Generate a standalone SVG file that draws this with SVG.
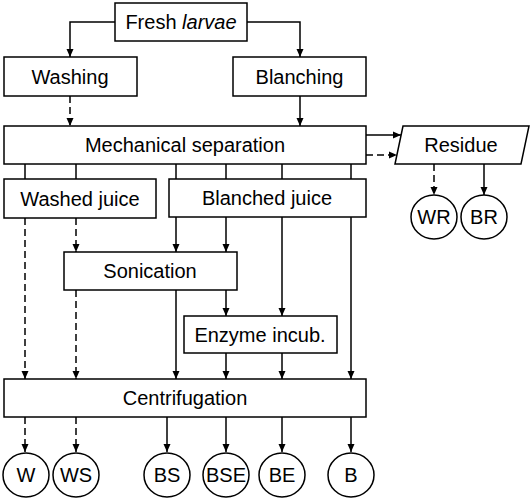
<svg xmlns="http://www.w3.org/2000/svg" width="532" height="499" viewBox="0 0 532 499">
<style>
.box{fill:#fff;stroke:#000;stroke-width:1.5}
.t{font-family:"Liberation Sans",Arial,sans-serif;font-size:20px;fill:#000;text-anchor:middle}
.c{fill:none;stroke:#000;stroke-width:1.5}
.a{marker-end:url(#ah)}
.d{stroke-dasharray:7,4}
</style>
<defs>
<marker id="ah" markerUnits="userSpaceOnUse" viewBox="0 0 8 8" refX="8" refY="4" markerWidth="8" markerHeight="8" orient="auto">
<path d="M0,0.5 L8,4 L0,7.5 z" fill="#000"/>
</marker>
</defs>
<rect width="532" height="499" fill="#fff"/>
<g id="connectors">
<polyline class="c a" points="115,22 70,22 70,57"/>
<polyline class="c a" points="247,22 300,22 300,57"/>
<line class="c a d" x1="70" y1="96" x2="70" y2="126"/>
<line class="c a" x1="300" y1="96" x2="300" y2="126"/>
<line class="c a" x1="366" y1="135" x2="401" y2="135"/>
<line class="c a d" x1="366" y1="155" x2="397" y2="155"/>
<line class="c a d" x1="434" y1="164" x2="434" y2="195"/>
<line class="c a" x1="484" y1="164" x2="484" y2="195"/>
<line class="c" x1="25" y1="164" x2="25" y2="179"/>
<line class="c" x1="76" y1="164" x2="76" y2="179"/>
<line class="c" x1="176" y1="164" x2="176" y2="179"/>
<line class="c" x1="226" y1="164" x2="226" y2="179"/>
<line class="c" x1="282" y1="164" x2="282" y2="179"/>
<line class="c" x1="351" y1="164" x2="351" y2="179"/>
<line class="c a d" x1="25" y1="218" x2="25" y2="379"/>
<line class="c a d" x1="76" y1="218" x2="76" y2="252"/>
<line class="c a" x1="176" y1="217" x2="176" y2="252"/>
<line class="c a" x1="226" y1="217" x2="226" y2="252"/>
<line class="c a" x1="282" y1="217" x2="282" y2="316"/>
<line class="c a" x1="351" y1="217" x2="351" y2="379"/>
<line class="c a d" x1="76" y1="290" x2="76" y2="379"/>
<line class="c a" x1="176" y1="290" x2="176" y2="379"/>
<line class="c a" x1="226" y1="290" x2="226" y2="316"/>
<line class="c a" x1="226" y1="353" x2="226" y2="379"/>
<line class="c a" x1="282" y1="353" x2="282" y2="379"/>
<line class="c a d" x1="25" y1="417" x2="25" y2="452"/>
<line class="c a d" x1="76" y1="417" x2="76" y2="452"/>
<line class="c a" x1="167" y1="417" x2="167" y2="452"/>
<line class="c a" x1="226" y1="417" x2="226" y2="452"/>
<line class="c a" x1="282" y1="417" x2="282" y2="452"/>
<line class="c a" x1="351" y1="417" x2="351" y2="452"/>
</g>
<g id="fresh"><rect class="box" x="115" y="3" width="132" height="38"/><text class="t" x="181" y="29">Fresh <tspan font-style="italic">larvae</tspan></text></g>
<g id="washing"><rect class="box" x="4" y="57" width="133" height="39"/><text class="t" x="70" y="83.5">Washing</text></g>
<g id="blanching"><rect class="box" x="233" y="57" width="133" height="39"/><text class="t" x="299.5" y="83.5">Blanching</text></g>
<g id="mech"><rect class="box" x="4" y="126" width="362" height="38"/><text class="t" x="185" y="152">Mechanical separation</text></g>
<g id="residue"><polygon class="box" points="403,126 529,126 521,164 395,164"/><text class="t" x="461" y="152">Residue</text></g>
<g id="wr"><ellipse class="box" cx="434" cy="217" rx="23" ry="22"/><text class="t" x="434" y="224">WR</text></g>
<g id="br"><ellipse class="box" cx="484" cy="217" rx="23" ry="22"/><text class="t" x="484" y="224">BR</text></g>
<g id="washedjuice"><rect class="box" x="4" y="179" width="152" height="39"/><text class="t" x="80" y="205.5">Washed juice</text></g>
<g id="blanchedjuice"><rect class="box" x="169" y="179" width="197" height="38"/><text class="t" x="267" y="205">Blanched juice</text></g>
<g id="sonication"><rect class="box" x="64" y="252" width="173" height="38"/><text class="t" x="150" y="278">Sonication</text></g>
<g id="enzyme"><rect class="box" x="184" y="316" width="153" height="37"/><text class="t" x="260" y="341.5">Enzyme incub.</text></g>
<g id="centrifugation"><rect class="box" x="4" y="379" width="362" height="38"/><text class="t" x="185" y="405">Centrifugation</text></g>
<g id="w"><ellipse class="box" cx="26" cy="475" rx="23" ry="22"/><text class="t" x="26" y="482">W</text></g>
<g id="ws"><ellipse class="box" cx="76" cy="475" rx="23" ry="22"/><text class="t" x="76" y="482">WS</text></g>
<g id="bs"><ellipse class="box" cx="167" cy="475" rx="23" ry="22"/><text class="t" x="167" y="482">BS</text></g>
<g id="bse"><ellipse class="box" cx="226" cy="475" rx="23" ry="22"/><text class="t" x="226" y="482">BSE</text></g>
<g id="be"><ellipse class="box" cx="282" cy="475" rx="23" ry="22"/><text class="t" x="282" y="482">BE</text></g>
<g id="b"><ellipse class="box" cx="351" cy="475" rx="23" ry="22"/><text class="t" x="351" y="482">B</text></g>
</svg>
